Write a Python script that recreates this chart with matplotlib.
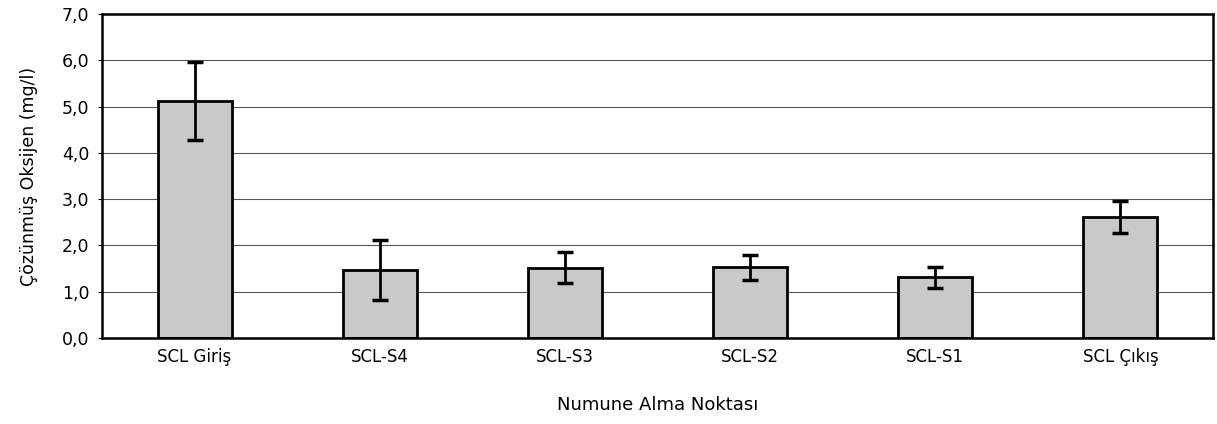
import matplotlib.pyplot as plt
import numpy as np

categories = ['SCL Giriş', 'SCL-S4', 'SCL-S3', 'SCL-S2', 'SCL-S1', 'SCL Çıkış']
means = [5.12, 1.47, 1.52, 1.53, 1.31, 2.61]
errors = [0.84, 0.64, 0.33, 0.27, 0.23, 0.35]
yticks = [0.0, 1.0, 2.0, 3.0, 4.0, 5.0, 6.0, 7.0]

fig = plt.figure(figsize=(12.17, 4.24), dpi=100)
ax = fig.add_axes([0.0838, 0.203, 0.9129, 0.764])

x = np.arange(len(categories))
ax.bar(x, means, width=0.4, color='#c9c9c9', edgecolor='black', linewidth=2, zorder=2)
ax.errorbar(x, means, yerr=errors, fmt='none', ecolor='black', elinewidth=2,
            capsize=6, capthick=2.5, zorder=3)

ax.set_xlim(-0.5, len(categories) - 0.5)
ax.set_ylim(0, 7)
ax.set_yticks(yticks)
ax.set_yticklabels([('%.1f' % v).replace('.', ',') for v in yticks], fontsize=12.5)
ax.set_xticks(x)
ax.set_xticklabels(categories, fontsize=12)
ax.tick_params(axis='x', length=0, pad=7)
ax.tick_params(axis='y', length=3, pad=6)
ax.yaxis.grid(True, color='#555555', linewidth=0.8, zorder=0)
ax.set_axisbelow(True)
for s in ax.spines.values():
    s.set_linewidth(1.8)
    s.set_color('black')

ax.set_ylabel('Çözünmüş Oksijen (mg/l)', fontsize=12.5, labelpad=17)
ax.set_xlabel('Numune Alma Noktası', fontsize=13, labelpad=22)

fig.savefig('out.png', dpi=100)
